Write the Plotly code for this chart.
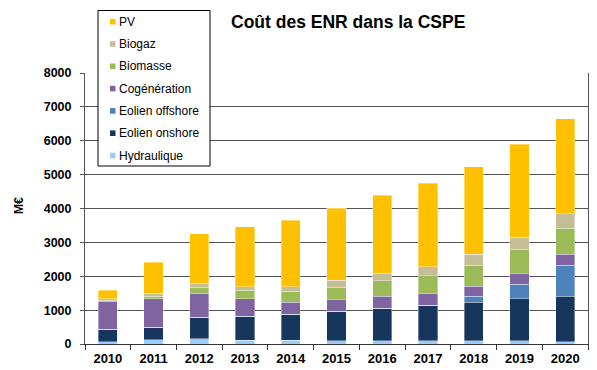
import plotly.graph_objects as go

years = ["2010", "2011", "2012", "2013", "2014", "2015", "2016", "2017", "2018", "2019", "2020"]

hydraulique = [70, 120, 150, 110, 110, 100, 100, 100, 100, 100, 70]
eolien_onshore = [370, 380, 635, 705, 775, 870, 950, 1050, 1140, 1230, 1335]
eolien_offshore = [0, 0, 0, 0, 0, 0, 0, 0, 165, 440, 925]
cogeneration = [820, 830, 720, 515, 345, 350, 355, 345, 305, 315, 315]
biomasse = [30, 75, 175, 250, 320, 350, 455, 520, 610, 705, 765]
biogaz = [45, 100, 110, 110, 140, 210, 235, 265, 335, 365, 435]
pv = [250, 910, 1465, 1770, 1960, 2130, 2290, 2460, 2575, 2735, 2805]

series = [
    ("Hydraulique", hydraulique, "#99CCFF"),
    ("Eolien onshore", eolien_onshore, "#17365D"),
    ("Eolien offshore", eolien_offshore, "#4F81BD"),
    ("Cogénération", cogeneration, "#8064A2"),
    ("Biomasse", biomasse, "#9BBB59"),
    ("Biogaz", biogaz, "#C4BD97"),
    ("PV", pv, "#FFC000"),
]

# page body has an 8px margin: work in window pixels, offset by OFF
OFF = 8
W, H = 597 - OFF, 370 - OFF
ML, MR, MT, MB = 85 - OFF, 9, 73 - OFF, 26
PW, PH = W - ML - MR, H - MT - MB


def px_x(p):
    return (p - OFF - ML) / PW


def px_y(p):
    return (H - MB - (p - OFF)) / PH


FONT = "Liberation Sans, Arial, sans-serif"

fig = go.Figure()
for name, vals, col in series:
    fig.add_trace(go.Bar(
        x=years, y=vals, name=name,
        marker=dict(color=col, line=dict(color="rgba(255,255,255,0.6)", width=0.6)),
    ))

shapes = []
annotations = []

# custom legend box
shapes.append(dict(type="rect", xref="paper", yref="paper",
                   x0=px_x(98), x1=px_x(210), y0=px_y(166), y1=px_y(10.5),
                   line=dict(color="black", width=1), fillcolor="white", layer="above"))
for i, (name, vals, col) in enumerate(reversed(series)):
    cy = 21.7 + i * 22.3
    shapes.append(dict(type="rect", xref="paper", yref="paper",
                       x0=px_x(110), x1=px_x(115.5), y0=px_y(cy + 2.8), y1=px_y(cy - 2.8),
                       line=dict(width=0), fillcolor=col, layer="above"))
    annotations.append(dict(xref="paper", yref="paper", x=px_x(117), y=px_y(cy),
                            xanchor="left", yanchor="middle", showarrow=False,
                            text=name, font=dict(size=12, color="black", family=FONT)))

# y-axis title
annotations.append(dict(xref="paper", yref="paper", x=px_x(19), y=px_y(206),
                        xanchor="center", yanchor="middle", showarrow=False, textangle=-90,
                        text="<b>M€</b>", font=dict(size=12, color="black", family=FONT)))

# chart title
annotations.append(dict(xref="paper", yref="paper", x=px_x(348), y=px_y(22),
                        xanchor="center", yanchor="middle", showarrow=False,
                        text="<b>Coût des ENR dans la CSPE</b>",
                        font=dict(size=17.5, color="black", family=FONT)))

fig.update_layout(
    barmode="stack",
    bargap=0.58,
    width=W, height=H,
    margin=dict(l=ML, r=MR, t=MT, b=MB),
    paper_bgcolor="white",
    plot_bgcolor="white",
    font=dict(family=FONT, color="black"),
    showlegend=False,
    shapes=shapes,
    annotations=annotations,
)

fig.update_yaxes(
    range=[0, 8000], dtick=1000,
    showgrid=True, gridcolor="#555555", gridwidth=1,
    showline=True, linecolor="#555555", linewidth=1, mirror=True,
    ticks="outside", ticklen=4, tickcolor="#555555",
    tickfont=dict(size=12.5, color="black", family=FONT),
    tickprefix="<b>", ticksuffix="</b>",
    ticklabelstandoff=6,
    zeroline=False, automargin=False,
)
fig.update_xaxes(
    showline=True, linecolor="#333333", linewidth=1,
    ticks="outside", tickson="boundaries", ticklen=5, tickcolor="#333333",
    tickfont=dict(size=13, color="black", family=FONT),
    tickprefix="<b>", ticksuffix="</b>",
    ticklabelstandoff=2,
    automargin=False,
)

fig.write_html("out.html")
